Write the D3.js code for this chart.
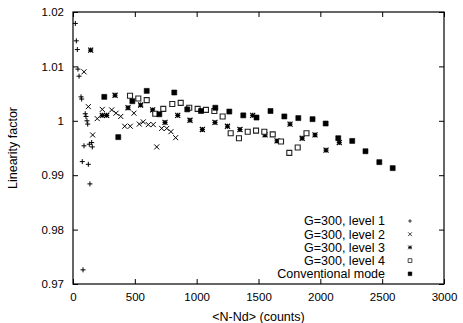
<!DOCTYPE html>
<html>
<head>
<meta charset="utf-8">
<script src="https://cdn.jsdelivr.net/npm/d3@7"></script>
<style>
  body { margin: 0; background: #fff; }
  svg { display: block; font-family: "Liberation Sans", Arial, sans-serif; }
</style>
</head>
<body>
<div id="chart"></div>
<script>
// DATA  ([<N-Nd>, linearity factor])
const level1 = [
  [19, 1.0179], [27, 1.0147], [35, 1.0131], [40, 1.0095], [49, 1.0082],
  [65, 1.0044], [70, 1.0040], [99, 1.0013], [105, 1.0008], [113, 1.0000],
  [119, 0.9994], [89, 0.9954], [132, 0.9957], [151, 0.9960], [156, 0.9952],
  [75, 0.9925], [124, 0.9920], [137, 0.9884], [81, 0.9726]
]
const level2 = [
  [89, 1.0090], [124, 1.0026], [196, 1.0004], [237, 1.0021], [313, 1.0020],
  [348, 1.0014], [386, 1.0008], [418, 0.9990], [463, 0.9990], [493, 1.0014],
  [536, 0.9994], [568, 0.9998], [609, 0.9993], [649, 0.9993], [159, 0.9974],
  [677, 0.9952], [717, 0.9986], [758, 0.9986], [792, 0.9980], [830, 0.9969]
]
const level3 = [
  [143, 1.0130], [237, 1.0010], [272, 1.0010], [340, 1.0047], [445, 1.0024],
  [547, 1.0029], [644, 1.0020], [744, 0.9997], [847, 1.0010], [946, 1.0001],
  [1046, 0.9984], [1148, 0.9997], [1249, 0.9990], [1350, 0.9984], [1453, 1.0010],
  [1553, 0.9974], [1650, 0.9963], [1755, 0.9994], [1853, 0.9968], [1957, 0.9974],
  [2046, 0.9946], [2153, 0.9960]
]
const level4 = [
  [461, 1.0046], [528, 1.0041], [596, 1.0038], [665, 1.0013], [730, 1.0022],
  [803, 1.0031], [871, 1.0033], [940, 1.0024], [1008, 1.0022], [1075, 1.0020],
  [1143, 1.0018], [1210, 1.0008], [1275, 0.9977], [1342, 0.9968], [1413, 0.9980],
  [1480, 0.9982], [1547, 0.9980], [1615, 0.9975], [1682, 0.9962], [1749, 0.9941],
  [1817, 0.9951], [1888, 0.9977]
]
const conventional = [
  [253, 1.0044], [366, 0.9970], [480, 1.0036], [596, 1.0055], [698, 1.0012],
  [819, 1.0052], [924, 1.0021], [1035, 1.0018], [1151, 1.0024], [1264, 1.0017],
  [1377, 1.0010], [1484, 1.0006], [1597, 1.0018], [1709, 1.0008], [1822, 1.0005],
  [1937, 1.0003], [2043, 0.9995], [2145, 0.9968], [2258, 0.9963], [2365, 0.9944],
  [2477, 0.9924], [2585, 0.9913]
]
const seriesNames = ["G=300, level 1", "G=300, level 2", "G=300, level 3", "G=300, level 4", "Conventional mode"]
const xTicks = [0, 500, 1000, 1500, 2000, 2500, 3000]
const yTicks = [0.97, 0.98, 0.99, 1, 1.01, 1.02]

const W = 463, H = 323
const margin = { top: 12, right: 19, bottom: 39, left: 73 }
const w = W - margin.left - margin.right
const h = H - margin.top - margin.bottom

const svg = d3.select("#chart").append("svg").attr("width", W).attr("height", H)
const g = svg.append("g").attr("transform", `translate(${margin.left},${margin.top})`)

const x = d3.scaleLinear().domain([0, 3000]).range([0, w])
const y = d3.scaleLinear().domain([0.97, 1.02]).range([h, 0])

// axes, ticks point inward and are mirrored on top/right
const tk = 5
g.append("g").attr("transform", `translate(0,${h})`)
  .call(d3.axisBottom(x).tickValues(xTicks).tickSize(-tk).tickPadding(tk + 4).tickFormat(d3.format("d")))
g.append("g")
  .call(d3.axisTop(x).tickValues(xTicks).tickSize(-tk).tickFormat(""))
g.append("g")
  .call(d3.axisLeft(y).tickValues(yTicks).tickSize(-tk).tickPadding(tk + 4).tickFormat(d => d === 1 ? "1" : d3.format(".2f")(d)))
g.append("g").attr("transform", `translate(${w},0)`)
  .call(d3.axisRight(y).tickValues(yTicks).tickSize(-tk).tickFormat(""))

g.selectAll(".domain").remove()
g.selectAll(".tick line").attr("stroke", "#000")
g.selectAll(".tick text").attr("fill", "#000").style("font-size", "11.5px")

g.append("rect").attr("width", w).attr("height", h)
  .attr("fill", "none").attr("stroke", "#000").attr("stroke-width", 1.2)

// axis titles
svg.append("text").attr("x", margin.left + w / 2).attr("y", H - 2)
  .attr("text-anchor", "middle").style("font-size", "12.5px").text("<N-Nd> (counts)")
svg.append("text").attr("transform", `translate(17,${margin.top + h / 2}) rotate(-90)`)
  .attr("text-anchor", "middle").style("font-size", "12.5px").text("Linearity factor")

// marker shapes
const s = 2.5
const shapes = [
  `M${-s},0H${s}M0,${-s}V${s}`,
  `M${-s},${-s}L${s},${s}M${-s},${s}L${s},${-s}`,
  `M${-s},0H${s}M0,${-s}V${s}M${-s},${-s}L${s},${s}M${-s},${s}L${s},${-s}`,
  `M${-s},${-s}H${s}V${s}H${-s}Z`,
  `M${-s},${-s}H${s}V${s}H${-s}Z`
]
const styles = [
  { fill: "none", stroke: "#000", sw: 1 },
  { fill: "none", stroke: "#000", sw: 1 },
  { fill: "none", stroke: "#000", sw: 1.2 },
  { fill: "#fff", stroke: "#222", sw: 1.1 },
  { fill: "#000", stroke: "#000", sw: 0.6 }
]
const allSeries = [level1, level2, level3, level4, conventional]

allSeries.forEach((data, i) => {
  g.append("g").selectAll("path").data(data).join("path")
    .attr("transform", d => `translate(${x(d[0])},${y(d[1])})`)
    .attr("d", shapes[i])
    .attr("fill", styles[i].fill).attr("stroke", styles[i].stroke).attr("stroke-width", styles[i].sw)
})

// legend (symbols drawn a bit smaller, like the original)
const legend = g.append("g").attr("transform", `translate(${w - 34},${h - 63})`)
seriesNames.forEach((name, i) => {
  const row = legend.append("g").attr("transform", `translate(0,${i * 13.2})`)
  row.append("text").attr("x", -25).attr("dy", "0.35em").attr("text-anchor", "end")
    .style("font-size", "12.5px").text(name)
  row.append("path").attr("d", shapes[i]).attr("transform", "scale(0.75)")
    .attr("fill", styles[i].fill).attr("stroke", styles[i].stroke).attr("stroke-width", styles[i].sw)
})
</script>
</body>
</html>
